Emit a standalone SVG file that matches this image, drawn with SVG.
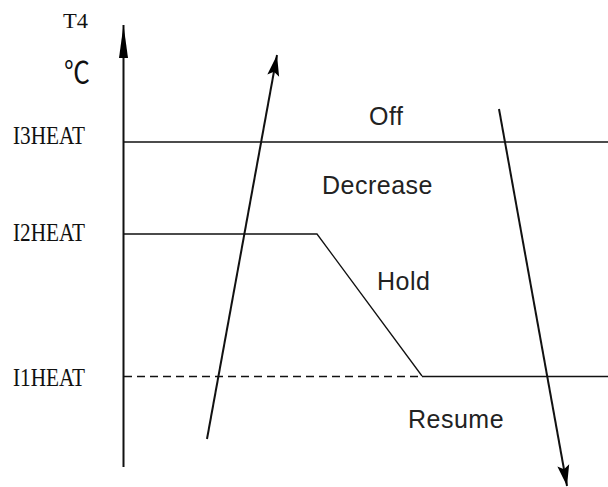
<svg xmlns="http://www.w3.org/2000/svg" width="608" height="487" viewBox="0 0 608 487">
<style>
.ax{font-family:"Liberation Serif","Noto Sans CJK SC",serif;fill:#111}
.zn{font-family:"Liberation Sans",Arial,sans-serif;font-size:25px;fill:#222;letter-spacing:0.5px}
.ln{stroke:#111;fill:none}
</style>
<defs>
<marker id="ah" markerUnits="userSpaceOnUse" markerWidth="22" markerHeight="14" refX="21" refY="7" orient="auto">
<path d="M0,1 L21,7 L0,13 L4,7 z" fill="#000"/>
</marker>
<marker id="axh" markerUnits="userSpaceOnUse" markerWidth="34" markerHeight="12" refX="33" refY="6" orient="auto">
<path d="M0,1.5 L33,6 L0,10.5 z" fill="#000"/>
</marker>
</defs>
<rect width="608" height="487" fill="#fff"/>
<g id="axis">
<line class="ln" x1="123.5" y1="467" x2="123.5" y2="25" stroke-width="2" marker-end="url(#axh)"/>
<text class="ax" x="63" y="28" font-size="20" textLength="25" lengthAdjust="spacingAndGlyphs">T4</text>
<text x="64" y="83" font-size="30" font-family="Noto Sans CJK SC, sans-serif" fill="#111" textLength="26" lengthAdjust="spacingAndGlyphs">℃</text>
</g>
<g id="i3heat">
<line class="ln" x1="124" y1="142" x2="608" y2="142" stroke-width="1.5"/>
<text class="ax" x="13" y="144" font-size="26" textLength="72" lengthAdjust="spacingAndGlyphs">I3HEAT</text>
</g>
<g id="i2heat">
<polyline class="ln" points="124,234 317,234 422,376" stroke-width="1.3"/>
<text class="ax" x="13" y="241" font-size="26" textLength="72" lengthAdjust="spacingAndGlyphs">I2HEAT</text>
</g>
<g id="i1heat">
<line class="ln" x1="124" y1="376.5" x2="422" y2="376.5" stroke-width="1.5" stroke-dasharray="8,5"/>
<line class="ln" x1="422" y1="376.5" x2="608" y2="376.5" stroke-width="1.5"/>
<text class="ax" x="13" y="386" font-size="26" textLength="72" lengthAdjust="spacingAndGlyphs">I1HEAT</text>
</g>
<g id="zones">
<text class="zn" x="369" y="125">Off</text>
<text class="zn" x="322" y="194">Decrease</text>
<text class="zn" x="377" y="290">Hold</text>
<text class="zn" x="408" y="428">Resume</text>
</g>
<g id="connectors">
<line class="ln" x1="207" y1="439" x2="277" y2="55" stroke-width="2" marker-end="url(#ah)"/>
<line class="ln" x1="499" y1="109" x2="567" y2="486" stroke-width="2" marker-end="url(#ah)"/>
</g>
</svg>
